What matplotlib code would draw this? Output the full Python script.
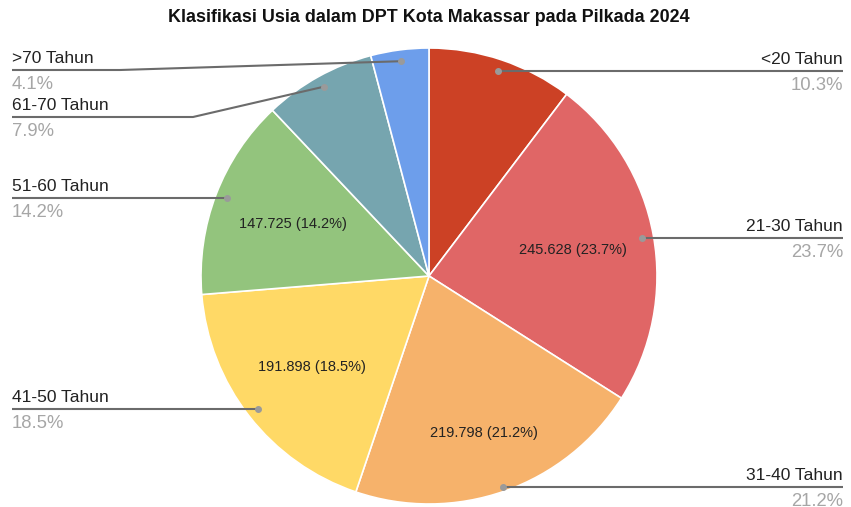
import numpy as np
import matplotlib
matplotlib.use("Agg")
import matplotlib.pyplot as plt

plt.rcParams['font.family'] = ['Liberation Sans', 'DejaVu Sans']

title = "Klasifikasi Usia dalam DPT Kota Makassar pada Pilkada 2024"
labels = ["<20 Tahun", "21-30 Tahun", "31-40 Tahun", "41-50 Tahun",
          "51-60 Tahun", "61-70 Tahun", ">70 Tahun"]
values = [107000, 245628, 219798, 191898, 147725, 82300, 42650]
colors = ["#cc4125", "#e06666", "#f6b26b", "#ffd966", "#93c47d", "#76a5af", "#6d9eeb"]
show_inner = [False, True, True, True, True, False, False]

# layout (pixels from top-left)
W, H = 851, 507
cx, cy, R = 429, 276, 228
inner_r = [0.65, 0.64, 0.73, 0.65, 0.64, 0.65, 0.65]
anchor_r = [0.95, 0.95, 0.98, 0.95, 0.95, 0.95, 0.95]
side = ["R", "R", "R", "L", "L", "L", "L"]
line_y = [None, None, None, None, None, 117, 70]   # None -> horizontal at anchor
bend_x = [None, None, None, None, None, 193, 120]

fig = plt.figure(figsize=(W / 100, H / 100), dpi=100)
ax = fig.add_axes([0, 0, 1, 1])

wedges, _ = ax.pie(values, colors=colors, startangle=90, counterclock=False,
                   center=(cx, H - cy), radius=R,
                   wedgeprops=dict(edgecolor="white", linewidth=1.2))
ax.set_xlim(0, W)
ax.set_ylim(0, H)
ax.axis("off")

total = sum(values)
for i, w in enumerate(wedges):
    mid = np.deg2rad((w.theta1 + w.theta2) / 2)
    pct = values[i] / total * 100
    if show_inner[i]:
        r = inner_r[i] * R
        txt = f"{values[i]:,}".replace(",", ".") + f" ({pct:.1f}%)"
        ax.text(cx + r * np.cos(mid), H - cy + r * np.sin(mid), txt,
                ha="center", va="center", fontsize=10.5, color="#222222")

    # leader line
    ax_x = cx + anchor_r[i] * R * np.cos(mid)
    ax_y = H - cy + anchor_r[i] * R * np.sin(mid)
    ly = H - line_y[i] if line_y[i] is not None else ax_y
    end_x = 843 if side[i] == "R" else 12
    if bend_x[i] is not None:
        xs = [ax_x, bend_x[i], end_x]
        ys = [ax_y, ly, ly]
    else:
        xs = [ax_x, end_x]
        ys = [ax_y, ly]
    ax.plot(xs, ys, color="#6b6b6b", lw=1.5, solid_capstyle="butt")
    ax.plot([ax_x], [ax_y], "o", color="#9a9a9a", ms=4)

    ha = "right" if side[i] == "R" else "left"
    ax.text(end_x, ly + 4, labels[i], ha=ha, va="bottom", fontsize=12.5, color="#222222")
    ax.text(end_x, ly - 6, f"{pct:.1f}%", ha=ha, va="top", fontsize=13.3, color="#a6a6a6")

ax.text(429, H - 17, title, ha="center", va="center", fontsize=12.9, fontweight="bold",
        color="#111111")

fig.savefig("out.png", dpi=100, facecolor="white")
